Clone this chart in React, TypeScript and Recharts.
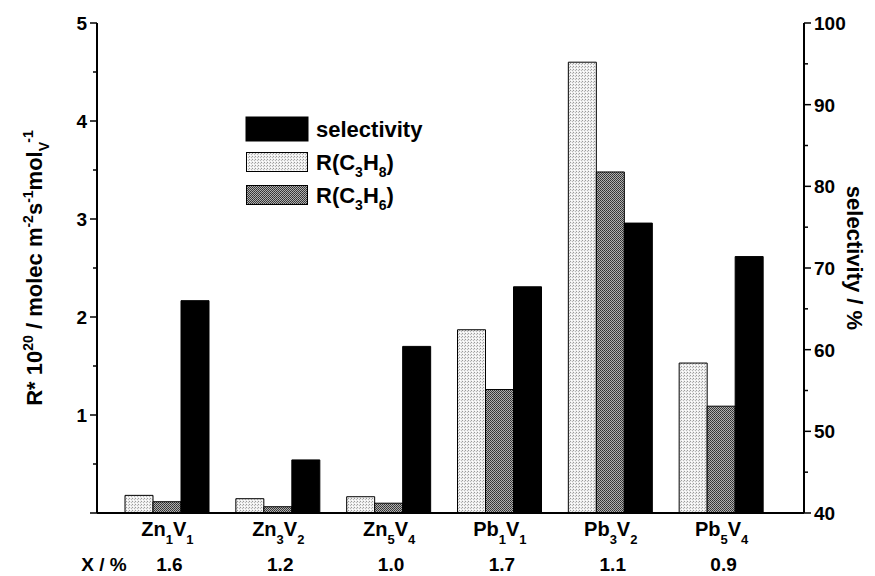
import { ComposedChart, Bar, XAxis, YAxis, Legend } from 'recharts'

const metals = ['Zn', 'Zn', 'Zn', 'Pb', 'Pb', 'Pb']
const metalIdx = ['1', '3', '5', '1', '3', '5']
const vIdx = ['1', '2', '4', '1', '2', '4']
const xPercent = ['1.6', '1.2', '1.0', '1.7', '1.1', '0.9']

// R * 10^20 / molec m-2 s-1 molV-1
const rPropane = [0.18, 0.146, 0.166, 1.87, 4.6, 1.53]
const rPropene = [0.115, 0.064, 0.1, 1.26, 3.48, 1.09]
// selectivity / %
const selectivity = [66.0, 46.5, 60.4, 67.7, 75.5, 71.4]

const leftTicks = [0, 0.5, 1, 1.5, 2, 2.5, 3, 3.5, 4, 4.5, 5]
const rightTicks = [40, 45, 50, 55, 60, 65, 70, 75, 80, 85, 90, 95, 100]

const data = metals.map((m, i) => ({
  name: m + metalIdx[i] + 'V' + vIdx[i],
  c3h8: rPropane[i],
  c3h6: rPropene[i],
  sel: selectivity[i],
}))

const FONT = '"Liberation Sans", Arial, sans-serif'

const LeftTick = (props: any) => {
  const { x, y, payload } = props
  const v = payload.value
  const major = Number.isInteger(v)
  return (
    <g>
      <line x1={x} x2={x - (major ? 7 : 4)} y1={y} y2={y} stroke="#000" strokeWidth={1.5} />
      {major && v > 0 && (
        <text x={x - 10} y={y} dy="0.36em" textAnchor="end" fontFamily={FONT} fontWeight="bold" fontSize={19} fill="#000">
          {v}
        </text>
      )}
    </g>
  )
}

const RightTick = (props: any) => {
  const { x, y, payload } = props
  const v = payload.value
  const major = v % 10 === 0
  return (
    <g>
      <line x1={x} x2={x + (major ? 7 : 4)} y1={y} y2={y} stroke="#000" strokeWidth={1.5} />
      {major && (
        <text x={x + 10} y={y} dy="0.36em" textAnchor="start" fontFamily={FONT} fontWeight="bold" fontSize={19} fill="#000">
          {v}
        </text>
      )}
    </g>
  )
}

const CatTick = (props: any) => {
  const { x, payload, index } = props
  return (
    <g>
      <text x={x} y={536} textAnchor="middle" fontFamily={FONT} fontWeight="bold" fontSize={20} fill="#000">
        {metals[index]}
        <tspan fontSize={13} dy={8}>{metalIdx[index]}</tspan>
        <tspan dy={-8}>V</tspan>
        <tspan fontSize={13} dy={8}>{vIdx[index]}</tspan>
      </text>
      <text x={x + 2} y={571} textAnchor="middle" fontFamily={FONT} fontWeight="bold" fontSize={19} fill="#000">
        {xPercent[index]}
      </text>
      <title>{payload.value}</title>
    </g>
  )
}

const LegendBox = () => (
  <svg width={240} height={95} style={{ overflow: 'visible' }}>
    <rect x={0} y={0} width={62} height={24} fill="#000" stroke="#000" />
    <rect x={0.5} y={35.5} width={61} height={19} fill="url(#pLight)" stroke="#000" />
    <rect x={0.5} y={68.5} width={61} height={19} fill="url(#pDark)" stroke="#000" />
    <text x={70} y={20} fontFamily={FONT} fontWeight="bold" fontSize={22} fill="#000">selectivity</text>
    <text x={70} y={53} fontFamily={FONT} fontWeight="bold" fontSize={22} fill="#000">
      R(C<tspan fontSize={14} dy={7}>3</tspan><tspan dy={-7}>H</tspan><tspan fontSize={14} dy={7}>8</tspan><tspan dy={-7}>)</tspan>
    </text>
    <text x={70} y={86} fontFamily={FONT} fontWeight="bold" fontSize={22} fill="#000">
      R(C<tspan fontSize={14} dy={7}>3</tspan><tspan dy={-7}>H</tspan><tspan fontSize={14} dy={7}>6</tspan><tspan dy={-7}>)</tspan>
    </text>
  </svg>
)

export default function App() {
  return (
    <div style={{ position: 'absolute', left: 0, top: 0, background: '#fff' }}>
      <ComposedChart
        width={875}
        height={576}
        data={data}
        margin={{ top: 23, right: 0, bottom: 0, left: 0 }}
        barGap={0}
        barSize={28}
      >
        <defs>
          <pattern id="pLight" width={3} height={3} patternUnits="userSpaceOnUse">
            <rect width={3} height={3} fill="#eeeeee" />
            <rect x={0} y={0} width={1} height={1} fill="#9a9a9a" />
            <rect x={2} y={1} width={1} height={1} fill="#b8b8b8" />
            <rect x={1} y={2} width={1} height={1} fill="#ffffff" />
          </pattern>
          <pattern id="pDark" width={2} height={2} patternUnits="userSpaceOnUse">
            <rect width={2} height={2} fill="#b0b0b0" />
            <rect x={0} y={0} width={1} height={1} fill="#303030" />
            <rect x={1} y={1} width={1} height={1} fill="#404040" />
          </pattern>
        </defs>
        <XAxis
          dataKey="name"
          height={63}
          padding={{ left: 15, right: 27 }}
          tickLine={false}
          axisLine={{ stroke: '#000', strokeWidth: 2 }}
          tick={<CatTick />}
          interval={0}
        />
        <YAxis
          yAxisId="left"
          orientation="left"
          width={97}
          domain={[0, 5]}
          ticks={leftTicks}
          interval={0}
          tickSize={0}
          tickMargin={0}
          tickLine={false}
          axisLine={{ stroke: '#000', strokeWidth: 2 }}
          tick={<LeftTick />}
        />
        <YAxis
          yAxisId="right"
          orientation="right"
          width={71}
          domain={[40, 100]}
          ticks={rightTicks}
          interval={0}
          tickSize={0}
          tickMargin={0}
          tickLine={false}
          axisLine={{ stroke: '#000', strokeWidth: 2 }}
          tick={<RightTick />}
        />
        <Legend
          layout="vertical"
          align="center"
          verticalAlign="middle"
          content={<LegendBox />}
          wrapperStyle={{ position: 'absolute', left: 246, top: 117, width: 240, height: 95 }}
        />
        <Bar yAxisId="left" dataKey="c3h8" name="R(C3H8)" fill="url(#pLight)" stroke="#000" strokeWidth={1} isAnimationActive={false} />
        <Bar yAxisId="left" dataKey="c3h6" name="R(C3H6)" fill="url(#pDark)" stroke="#000" strokeWidth={1} isAnimationActive={false} />
        <Bar yAxisId="right" dataKey="sel" name="selectivity" fill="#000" stroke="#000" strokeWidth={1} isAnimationActive={false} />
        <text x={104} y={571} textAnchor="middle" fontFamily={FONT} fontWeight="bold" fontSize={19} fill="#000">
          X / %
        </text>
        <text
          transform="translate(42,268) rotate(-90)"
          textAnchor="middle"
          fontFamily={FONT}
          fontWeight="bold"
          fontSize={22}
          fill="#000"
        >
          R* 10<tspan fontSize={14} dy={-9}>20</tspan>
          <tspan dy={9}> / molec m</tspan>
          <tspan fontSize={14} dy={-9}>-2</tspan>
          <tspan dy={9}>s</tspan>
          <tspan fontSize={14} dy={-9}>-1</tspan>
          <tspan dy={9}>mol</tspan>
          <tspan fontSize={14} dy={7}>V</tspan>
          <tspan fontSize={14} dy={-16}>-1</tspan>
        </text>
        <text
          transform="translate(847,258) rotate(90)"
          textAnchor="middle"
          fontFamily={FONT}
          fontWeight="bold"
          fontSize={22}
          fill="#000"
        >
          selectivity / %
        </text>
      </ComposedChart>
    </div>
  )
}
